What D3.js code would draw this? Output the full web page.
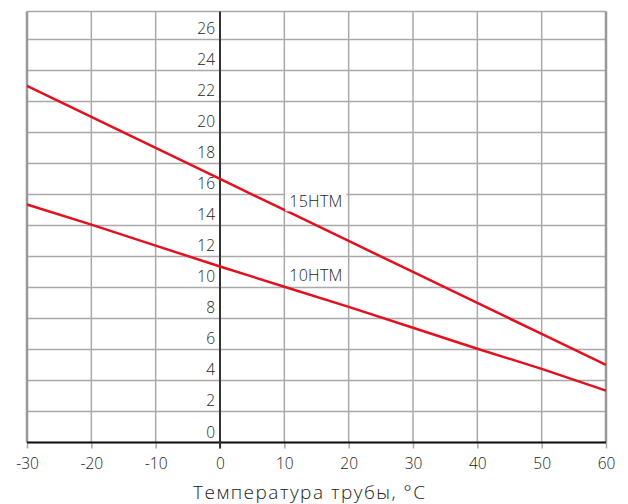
<!DOCTYPE html>
<html>
<head>
<meta charset="utf-8">
<script src="https://cdn.jsdelivr.net/npm/d3@7"></script>
<style>
  html, body { margin: 0; padding: 0; background: #fff; }
  svg { display: block; }
  text { font-family: "Open Sans", Lato, sans-serif; font-weight: 300; fill: #222; }
</style>
</head>
<body>
<script>
// Pipe temperature (°C) on the x axis
const temps = [-30, -20, -10, 0, 10, 20, 30, 40, 50, 60];
// Series values for each cable type
const series15HTM = [23, 21, 19, 17, 15, 13, 11, 9, 7, 5];
const series10HTM = [15.35, 14.05, 12.7, 11.35, 10.05, 8.75, 7.4, 6.05, 4.75, 3.35];
const seriesNames = ["15HTM", "10HTM"];
// Label baseline anchors for each series (temperature, value)
const labelAnchors = [[10, 15.2], [10, 10.4]];
// Axis ticks
const xTicks = [-30, -20, -10, 0, 10, 20, 30, 40, 50, 60];
const yTicks = [0, 2, 4, 6, 8, 10, 12, 14, 16, 18, 20, 22, 24, 26];
const xTitle = "Температура трубы, °C";

const W = 628, H = 504;
const plotL = 27, plotR = 606, plotT = 11.5, plotB = 442.5;

const x = d3.scaleLinear().domain([-30, 60]).range([plotL, plotR]);
const y = d3.scaleLinear().domain([0, 27.8]).range([plotB, plotT]);

const svg = d3.select("body").append("svg").attr("width", W).attr("height", H);

// grid
const grid = svg.append("g").attr("stroke", "#a9a9a9").attr("stroke-width", 1.5);
grid.selectAll("line.h").data(yTicks.concat([27.8])).join("line")
  .attr("x1", plotL).attr("x2", plotR)
  .attr("y1", d => y(d)).attr("y2", d => y(d));
grid.selectAll("line.v").data(xTicks.filter(d => d !== 0)).join("line")
  .attr("y1", plotT).attr("y2", plotB)
  .attr("x1", d => x(d)).attr("x2", d => x(d));
// thicker frame edges
svg.append("line").attr("x1", x(-30)).attr("x2", x(-30)).attr("y1", plotT).attr("y2", plotB)
  .attr("stroke", "#999").attr("stroke-width", 2.5);
svg.append("line").attr("x1", x(60)).attr("x2", x(60)).attr("y1", plotT).attr("y2", plotB)
  .attr("stroke", "#999").attr("stroke-width", 2.5);

// x axis with ticks below the baseline
const xAxis = svg.append("g").attr("transform", `translate(0,${plotB})`)
  .call(d3.axisBottom(x).tickValues(xTicks).tickSize(6).tickPadding(9).tickFormat(d => String(d)));
xAxis.select(".domain").remove();
xAxis.attr("font-family", null).attr("font-size", null);
xAxis.selectAll(".tick line").attr("stroke", "#a9a9a9").attr("stroke-width", 1.5);
xAxis.selectAll(".tick text").style("font-size", "15.5px").attr("fill", "#222");
svg.append("line").attr("x1", plotL).attr("x2", plotR).attr("y1", plotB).attr("y2", plotB)
  .attr("stroke", "#111").attr("stroke-width", 2);

// zero vertical axis
svg.append("line").attr("x1", x(0)).attr("x2", x(0)).attr("y1", plotT).attr("y2", plotB + 6)
  .attr("stroke", "#333").attr("stroke-width", 2);

// y labels, drawn just above each gridline, left of the zero axis
svg.append("g").selectAll("text").data(yTicks).join("text")
  .attr("x", x(0) - 5).attr("y", d => y(d) - 5)
  .attr("text-anchor", "end")
  .style("font-size", "15.5px")
  .text(d => d);

// series lines
const line = d3.line().x((d, i) => x(temps[i])).y(d => y(d));
[series15HTM, series10HTM].forEach(s => {
  svg.append("path").datum(s).attr("d", line)
    .attr("fill", "none").attr("stroke", "#e3101e").attr("stroke-width", 2.5);
});

// series labels with white backing
seriesNames.forEach((name, i) => {
  const [tx, ty] = labelAnchors[i];
  const g = svg.append("g");
  g.append("rect").attr("x", x(tx) + 1).attr("y", y(ty) - 13.5).attr("width", 61).attr("height", 18)
    .attr("fill", "#fff");
  g.append("text").attr("x", x(tx) + 5).attr("y", y(ty))
    .style("font-size", "16px")
    .attr("textLength", 53).attr("lengthAdjust", "spacing")
    .text(name);
});

// x title
svg.append("text").attr("x", 309).attr("y", 499).attr("text-anchor", "middle")
  .style("font-size", "19px")
  .attr("textLength", 232).attr("lengthAdjust", "spacing")
  .text(xTitle);
</script>
</body>
</html>
